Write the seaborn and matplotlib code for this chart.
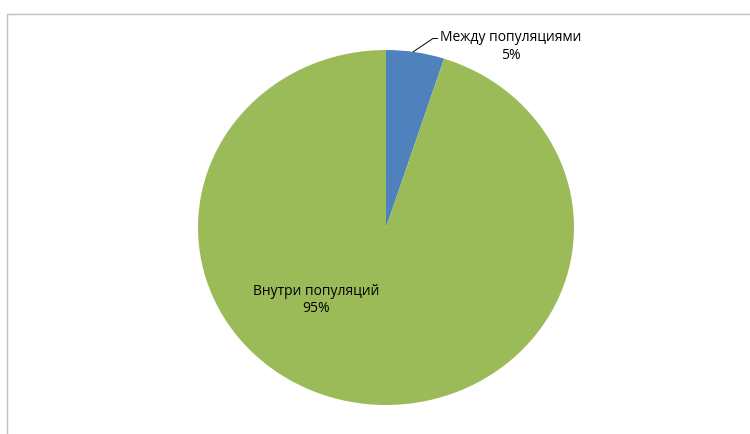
import matplotlib
matplotlib.use("Agg")
import matplotlib.pyplot as plt
import seaborn as sns
from matplotlib.lines import Line2D

categories = ["Между популяциями", "Внутри популяций"]
values = [5, 95]
pct_labels = ["5%", "95%"]
colors = ["#4F81BD", "#9BBB59"]

sns.set_theme(style="white")
plt.rcParams['font.family'] = ['Open Sans', 'DejaVu Sans']

W, H = 750, 434
fig = plt.figure(figsize=(W / 100, H / 100), dpi=100)
fig.patch.set_facecolor("white")

# pie bounding box in pixels
left, right, top, bottom = 198, 574, 50, 405
ax = fig.add_axes([left / W, (H - bottom) / H, (right - left) / W, (bottom - top) / H])
ax.pie(values, colors=colors, startangle=90, counterclock=False, radius=1,
       wedgeprops=dict(linewidth=0))
ax.set_aspect("auto")
ax.set_xlim(-1, 1)
ax.set_ylim(-1, 1)
ax.axis("off")

ax.text(0.665, 1.02, f"{categories[0]}\n{pct_labels[0]}", ha="center", va="center",
        fontsize=10, color="black", clip_on=False, linespacing=1.25)
ax.text(-0.372, -0.408, f"{categories[1]}\n{pct_labels[1]}", ha="center", va="center",
        fontsize=10, color="black", clip_on=False, linespacing=1.25)
ax.plot([0.145, 0.25, 0.275], [0.99, 1.065, 1.065], color="black", lw=0.7, clip_on=False)

# chart frame
fig.add_artist(Line2D([7 / W, 1], [1 - 14 / H, 1 - 14 / H], color="#BFBFBF", lw=1))
fig.add_artist(Line2D([7 / W, 7 / W], [0, 1 - 14 / H], color="#BFBFBF", lw=1))

fig.savefig("out.png", dpi=100, facecolor="white")
